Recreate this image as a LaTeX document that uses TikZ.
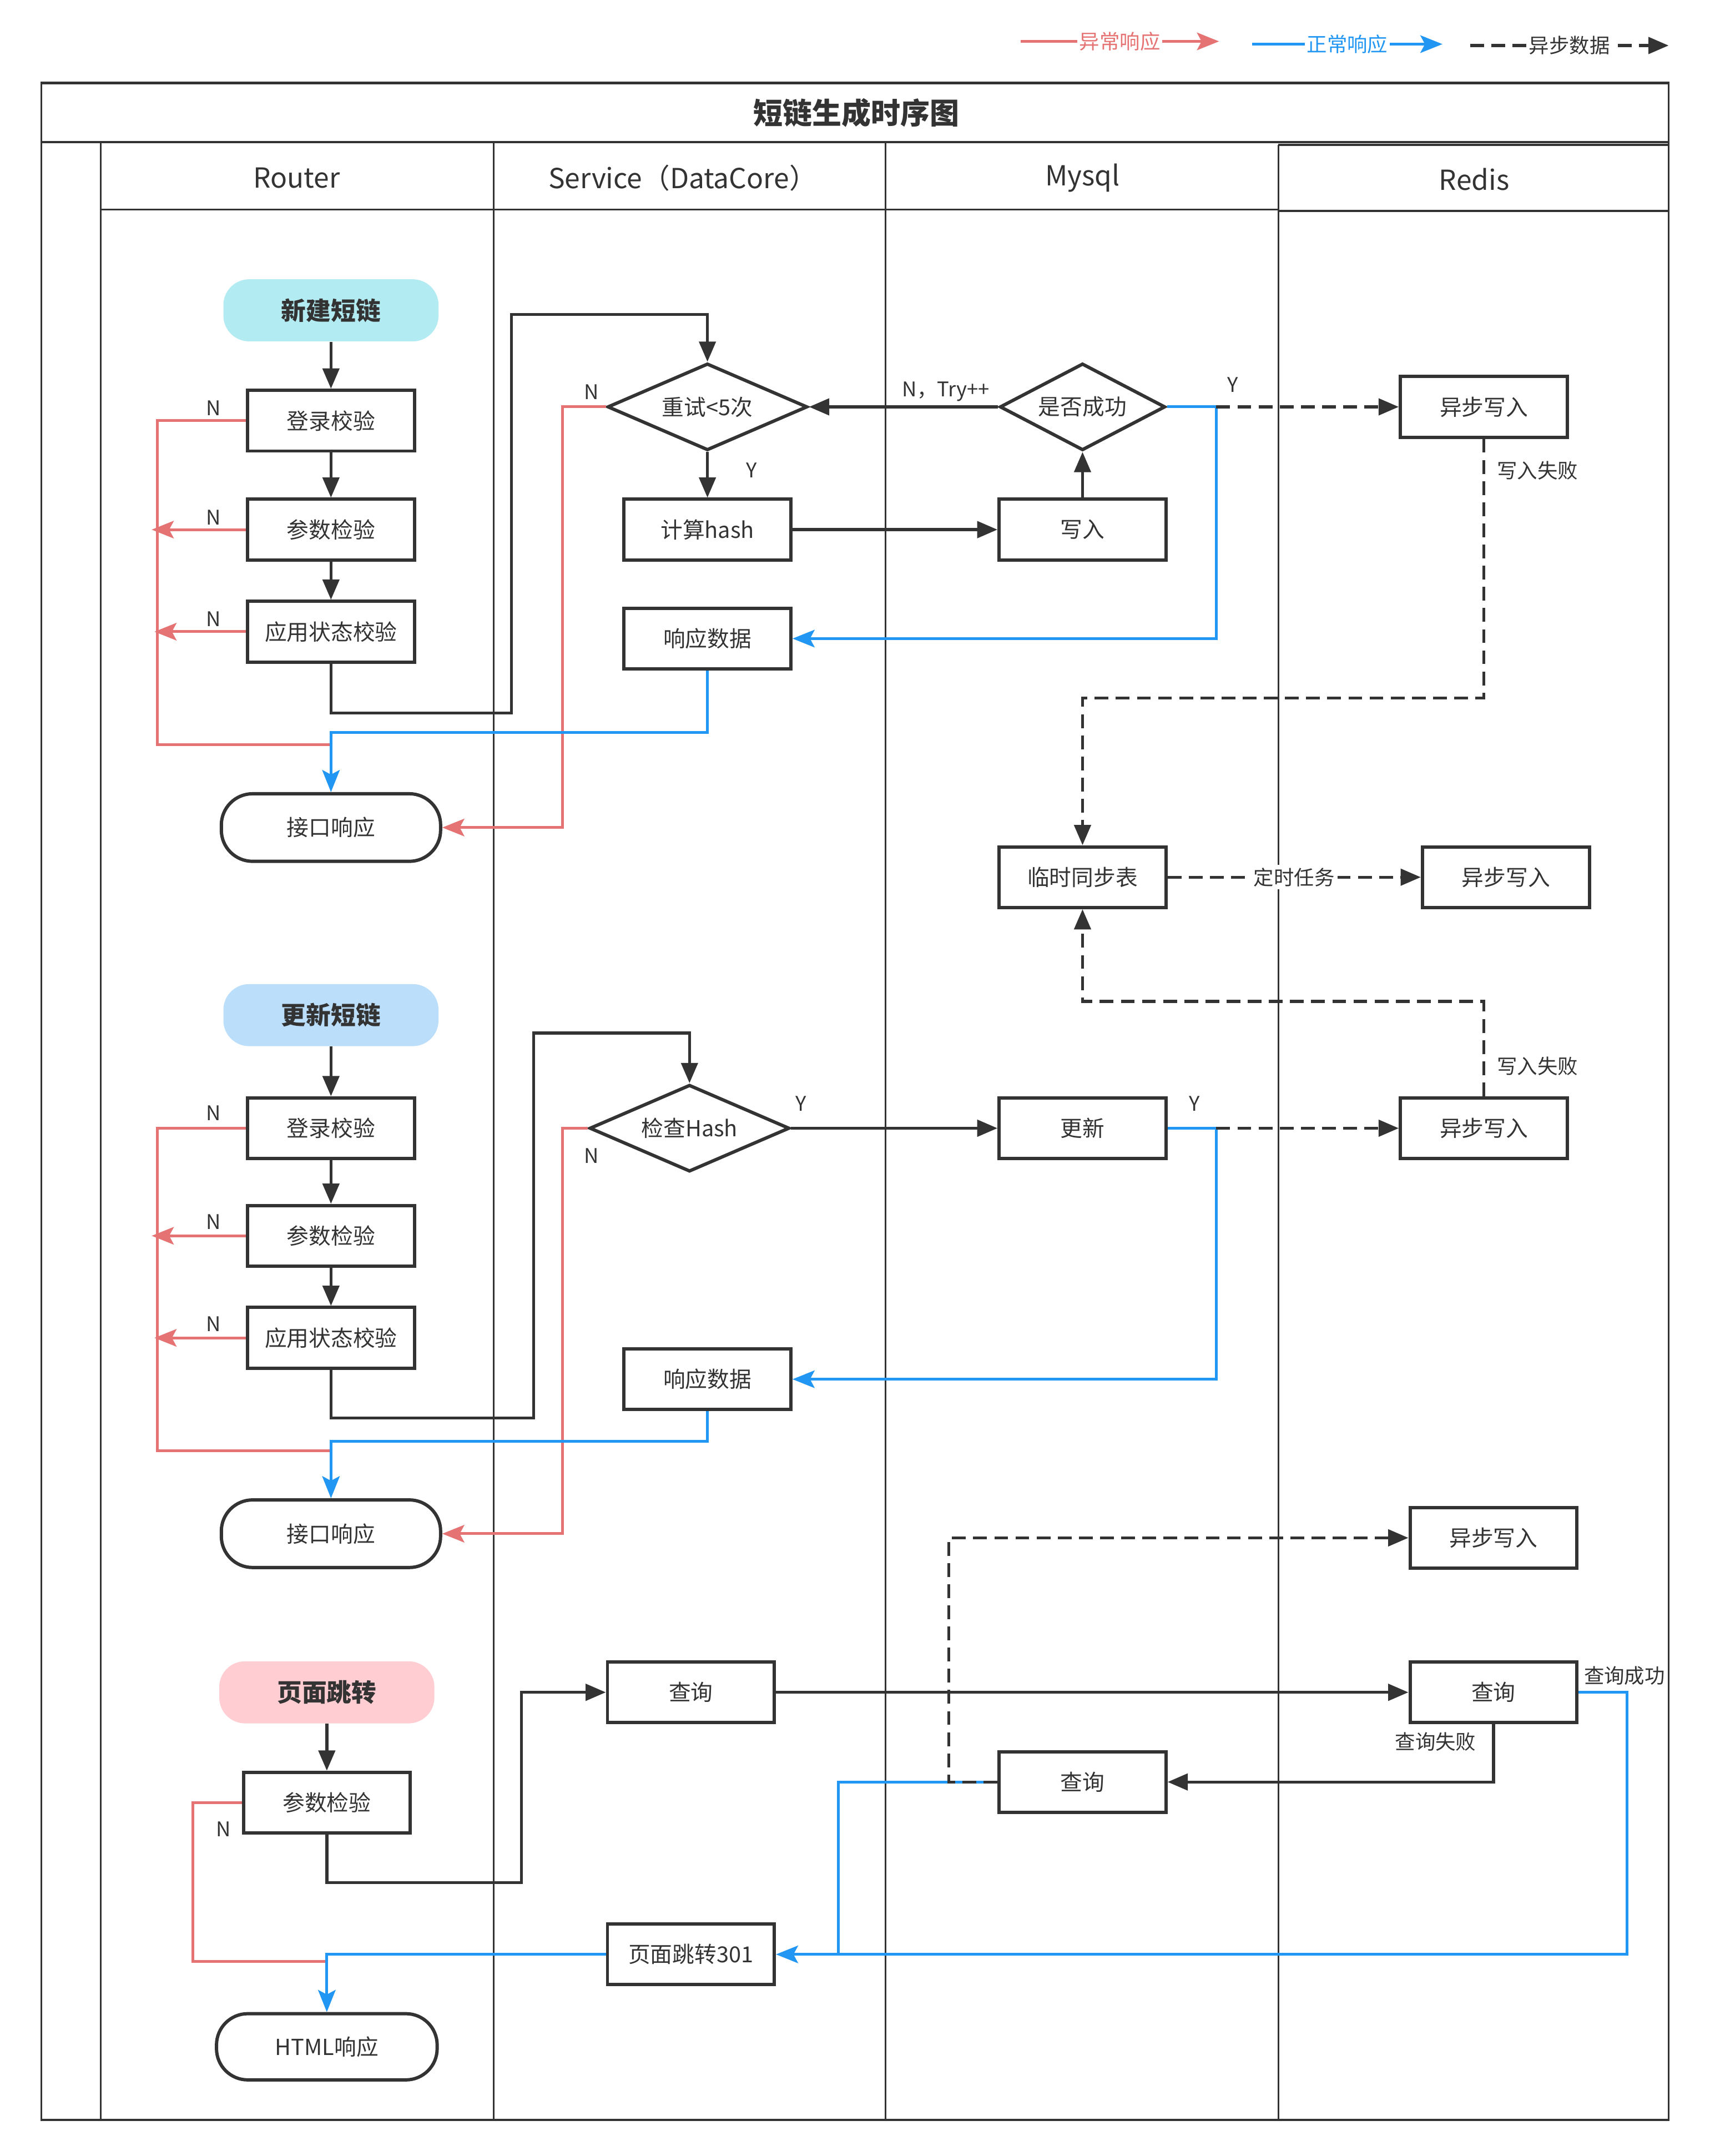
\documentclass[tikz,border=0pt]{standalone}
\usepackage{fontspec}
\setmainfont{Noto Sans CJK SC}
\usetikzlibrary{arrows.meta,shapes.geometric}
\definecolor{dk}{HTML}{333333}
\definecolor{redc}{HTML}{E67373}
\definecolor{bluec}{HTML}{2196F3}
\definecolor{cyanfill}{HTML}{B2EBF2}
\definecolor{bluefill}{HTML}{BBDEFB}
\definecolor{pinkfill}{HTML}{FFCDD2}
\newcommand\fsz[1]{\fontsize{#1}{#1}\selectfont}
\tikzset{
  frame/.style={draw=dk, line width=1pt},
  box/.style={draw=dk, line width=1.8pt, fill=white, minimum width=121*0.75pt, minimum height=44*0.75pt, inner sep=0pt, font=\fsz{12}, text=dk},
  dia/.style={diamond, draw=dk, line width=1.8pt, fill=white, minimum width=145*0.75pt, minimum height=63*0.75pt, inner sep=0pt, aspect=2.3, font=\fsz{12}, text=dk},
  startpill/.style={rounded corners=14pt, minimum width=156*0.75pt, minimum height=45*0.75pt, inner sep=0pt, font=\fsz{13.5}\bfseries, text=dk},
  endpill/.style={draw=dk, line width=1.8pt, fill=white, rounded corners=17pt, minimum width=159*0.75pt, minimum height=49*0.75pt, inner sep=0pt, font=\fsz{12}, text=dk},
  bl/.style={draw=dk, line width=1.6pt},
  rl/.style={draw=redc, line width=1.5pt},
  bu/.style={draw=bluec, line width=1.5pt},
  dl/.style={draw=dk, line width=1.6pt, dash pattern=on 7.5pt off 4pt},
  tri/.style={-{Triangle[length=11pt,width=9pt]}},
  stl/.style={-{Stealth[length=12pt,width=9.5pt,inset=2.5pt]}},
  lab/.style={font=\fsz{11}, text=dk, inner sep=1pt},
  hdr/.style={font=\fsz{15}, text=dk},
}
\begin{document}
\begin{tikzpicture}[x=0.75pt,y=-0.75pt]
\fill[white] (0,0) rectangle (1240,1563.2);
\useasboundingbox (0,0) rectangle (1240,1563.2);

% legend
\coordinate (la1) at (740,30); \coordinate (la2) at (884,30);
\coordinate (lb1) at (908,32); \coordinate (lb2) at (1046,32);
\coordinate (lc1) at (1066,33); \coordinate (lc2) at (1210,33);
\draw[rl,stl] (la1) -- node[fill=white,text=redc,font=\fsz{11},inner sep=1pt] (lga) {异常响应} (la2);
\draw[bu,stl] (lb1) -- node[fill=white,text=bluec,font=\fsz{11},inner sep=1pt] (lgb) {正常响应} (lb2);
\draw[dl,tri] (lc1) -- node[fill=white,text=dk,font=\fsz{11},inner sep=1pt] (lgc) {异步数据} (lc2);

% frame and lanes
\draw[frame] (30,60) rectangle (1210,1537);
\draw[draw=dk,line width=1.5pt] (30,60) -- (1210,60);
\draw[frame] (30,103) -- (1210,103);
\draw[frame] (73,103) -- (73,1537);
\draw[frame] (358,103) -- (358,1537);
\draw[frame] (642,103) -- (642,1537);
\draw[frame] (927,105) -- (927,1537);
\draw[frame] (73,152) -- (927,152);
\draw[frame] (927,105) -- (1210,105);
\draw[frame] (927,153) -- (1210,153);
\node[font=\fsz{16}\bfseries, text=dk] (title) at (621,82) {短链生成时序图};
\node[hdr] (hR) at (215,129) {Router};
\node[hdr] (hS) at (495,129) {Service（DataCore）};
\node[hdr] (hM) at (785,129) {Mysql};
\node[hdr] (hD) at (1069,130) {Redis};

% ---------- section 1 ----------
\node[startpill, fill=cyanfill] (n1s) at (240,225) {新建短链};
\node[box] (n1a) at (240,305) {登录校验};
\node[box] (n1b) at (240,384) {参数检验};
\node[box] (n1c) at (240,458) {应用状态校验};
\node[endpill] (n1r) at (240,600) {接口响应};
\node[dia] (n1d) at (513,295) {重试<5次};
\node[box] (n1h) at (513,384) {计算hash};
\node[box] (n1resp) at (513,463) {响应数据};
\node[box] (n1w) at (785,384) {写入};
\node[dia, minimum width=120*0.75pt] (n1ok) at (785,295) {是否成功};
\node[box] (n1aw) at (1076,295) {异步写入};
\node[box] (ntmp) at (785,636) {临时同步表};
\node[box] (n1aw2) at (1092,636) {异步写入};

\draw[bl,tri] (n1s) -- (n1a);
\draw[bl,tri] (n1a) -- (n1b);
\draw[bl,tri] (n1b) -- (n1c);
\coordinate (r1x) at (114,540); \coordinate (j1) at (240,540);
\draw[rl] (n1a.west) -| (r1x) -- (j1);
\coordinate (r1b) at (110,384); \coordinate (r1c) at (112,458);
\draw[rl,stl] (n1b.west) -- (r1b);
\draw[rl,stl] (n1c.west) -- (r1c);
\node[lab] (N1a) at (155,296) {N};
\node[lab] (N1b) at (155,375) {N};
\node[lab] (N1c) at (155,449) {N};
\coordinate (k1) at (371,517); \coordinate (k2) at (371,228);
\draw[bl,tri] (n1c.south) |- (k1) -- (k2) -| (n1d.north);
\coordinate (r2) at (408,600);
\draw[rl,stl] (n1d.west) -| (r2) -- (n1r.east);
\node[lab] (N1d) at (429,284) {N};
\draw[bl,tri] (n1d.south) -- (n1h.north);
\node[lab] (Y1d) at (545,341) {Y};
\draw[bl,tri] (n1h.east) -- (n1w.west);
\draw[bl,tri] (n1w.north) -- (n1ok.south);
\draw[bl,tri] (n1ok.west) -- (n1d.east);
\node[lab] (NT) at (686,284) {N，Try++};
\coordinate (b1) at (882,295);
\draw[bu,stl] (n1ok.east) -- (b1) |- (n1resp.east);
\draw[dl,tri] (b1) -- (n1aw.west);
\node[lab] (Y1ok) at (894,279) {Y};
\coordinate (d1) at (1076,506);
\draw[dl,tri] (n1aw.south) -- (d1) -| (ntmp.north);
\node[lab, anchor=west] (F1) at (1084,341) {写入失败};
\coordinate (b2) at (513,531);
\draw[bu,stl] (n1resp.south) -- (b2) -| (n1r.north);
\draw[dl,tri] (ntmp.east) -- node[fill=white, lab, inner sep=1.5pt] (tm) {定时任务} (n1aw2.west);

% ---------- section 2 ----------
\node[startpill, fill=bluefill] (n2s) at (240,736) {更新短链};
\node[box] (n2a) at (240,818) {登录校验};
\node[box] (n2b) at (240,896) {参数检验};
\node[box] (n2c) at (240,970) {应用状态校验};
\node[endpill] (n2r) at (240,1112) {接口响应};
\node[dia] (n2d) at (500,818) {检查Hash};
\node[box] (n2u) at (785,818) {更新};
\node[box] (n2aw) at (1076,818) {异步写入};
\node[box] (n2resp) at (513,1000) {响应数据};

\draw[bl,tri] (n2s) -- (n2a);
\draw[bl,tri] (n2a) -- (n2b);
\draw[bl,tri] (n2b) -- (n2c);
\coordinate (r3x) at (114,1052); \coordinate (j2) at (240,1052);
\draw[rl] (n2a.west) -| (r3x) -- (j2);
\coordinate (r3b) at (110,896); \coordinate (r3c) at (112,970);
\draw[rl,stl] (n2b.west) -- (r3b);
\draw[rl,stl] (n2c.west) -- (r3c);
\node[lab] (N2a) at (155,807) {N};
\node[lab] (N2b) at (155,886) {N};
\node[lab] (N2c) at (155,960) {N};
\coordinate (k3) at (387,1028); \coordinate (k4) at (387,749);
\draw[bl,tri] (n2c.south) |- (k3) -- (k4) -| (n2d.north);
\coordinate (r4) at (408,1112);
\draw[rl,stl] (n2d.west) -| (r4) -- (n2r.east);
\node[lab] (N2d) at (429,838) {N};
\draw[bl,tri] (n2d.east) -- (n2u.west);
\node[lab] (Y2d) at (581,800) {Y};
\coordinate (b4) at (882,818);
\draw[bu,stl] (n2u.east) -- (b4) |- (n2resp.east);
\draw[dl,tri] (b4) -- (n2aw.west);
\node[lab] (Y2u) at (866,800) {Y};
\coordinate (d2) at (1076,726);
\draw[dl,tri] (n2aw.north) -- (d2) -| (ntmp.south);
\node[lab, anchor=west] (F2) at (1084,773) {写入失败};
\coordinate (b5) at (513,1045);
\draw[bu,stl] (n2resp.south) -- (b5) -| (n2r.north);

% ---------- section 3 ----------
\node[startpill, fill=pinkfill] (n3s) at (237,1227) {页面跳转};
\node[box] (n3a) at (237,1307) {参数检验};
\node[box] (n3q) at (501,1227) {查询};
\node[box] (n3rq) at (1083,1227) {查询};
\node[box] (n3mq) at (785,1292) {查询};
\node[box] (n3aw) at (1083,1115) {异步写入};
\node[box] (n3p) at (501,1417) {页面跳转301};
\node[endpill, minimum width=160*0.75pt, minimum height=48*0.75pt] (n3r) at (237,1484) {HTML响应};

\draw[bl,tri] (n3s) -- (n3a);
\coordinate (r5x) at (140,1422); \coordinate (j3) at (237,1422);
\draw[rl] (n3a.west) -| (r5x) -- (j3);
\node[lab] (N3a) at (162,1326) {N};
\coordinate (k5) at (378,1365); \coordinate (k6) at (378,1227);
\draw[bl,tri] (n3a.south) |- (k5) -- (k6) -- (n3q.west);
\draw[bl,tri] (n3q.east) -- (n3rq.west);
\coordinate (b6) at (1180,1227);
\draw[bu,stl] (n3rq.east) -- (b6) |- (n3p.east);
\node[lab] (S3) at (1178,1215) {查询成功};
\draw[bl,tri] (n3rq.south) |- (n3mq.east);
\node[lab] (F3) at (1041,1263) {查询失败};
\coordinate (b7) at (608,1292); \coordinate (b8) at (608,1417);
\draw[bu] (n3mq.west) -- (b7) -- (b8);
\coordinate (d3) at (688,1292);
\draw[dl,tri] (n3mq.west) -- (d3) |- (n3aw.west);
\draw[bu,stl] (n3p.west) -| (n3r.north);
\end{tikzpicture}
\end{document}
